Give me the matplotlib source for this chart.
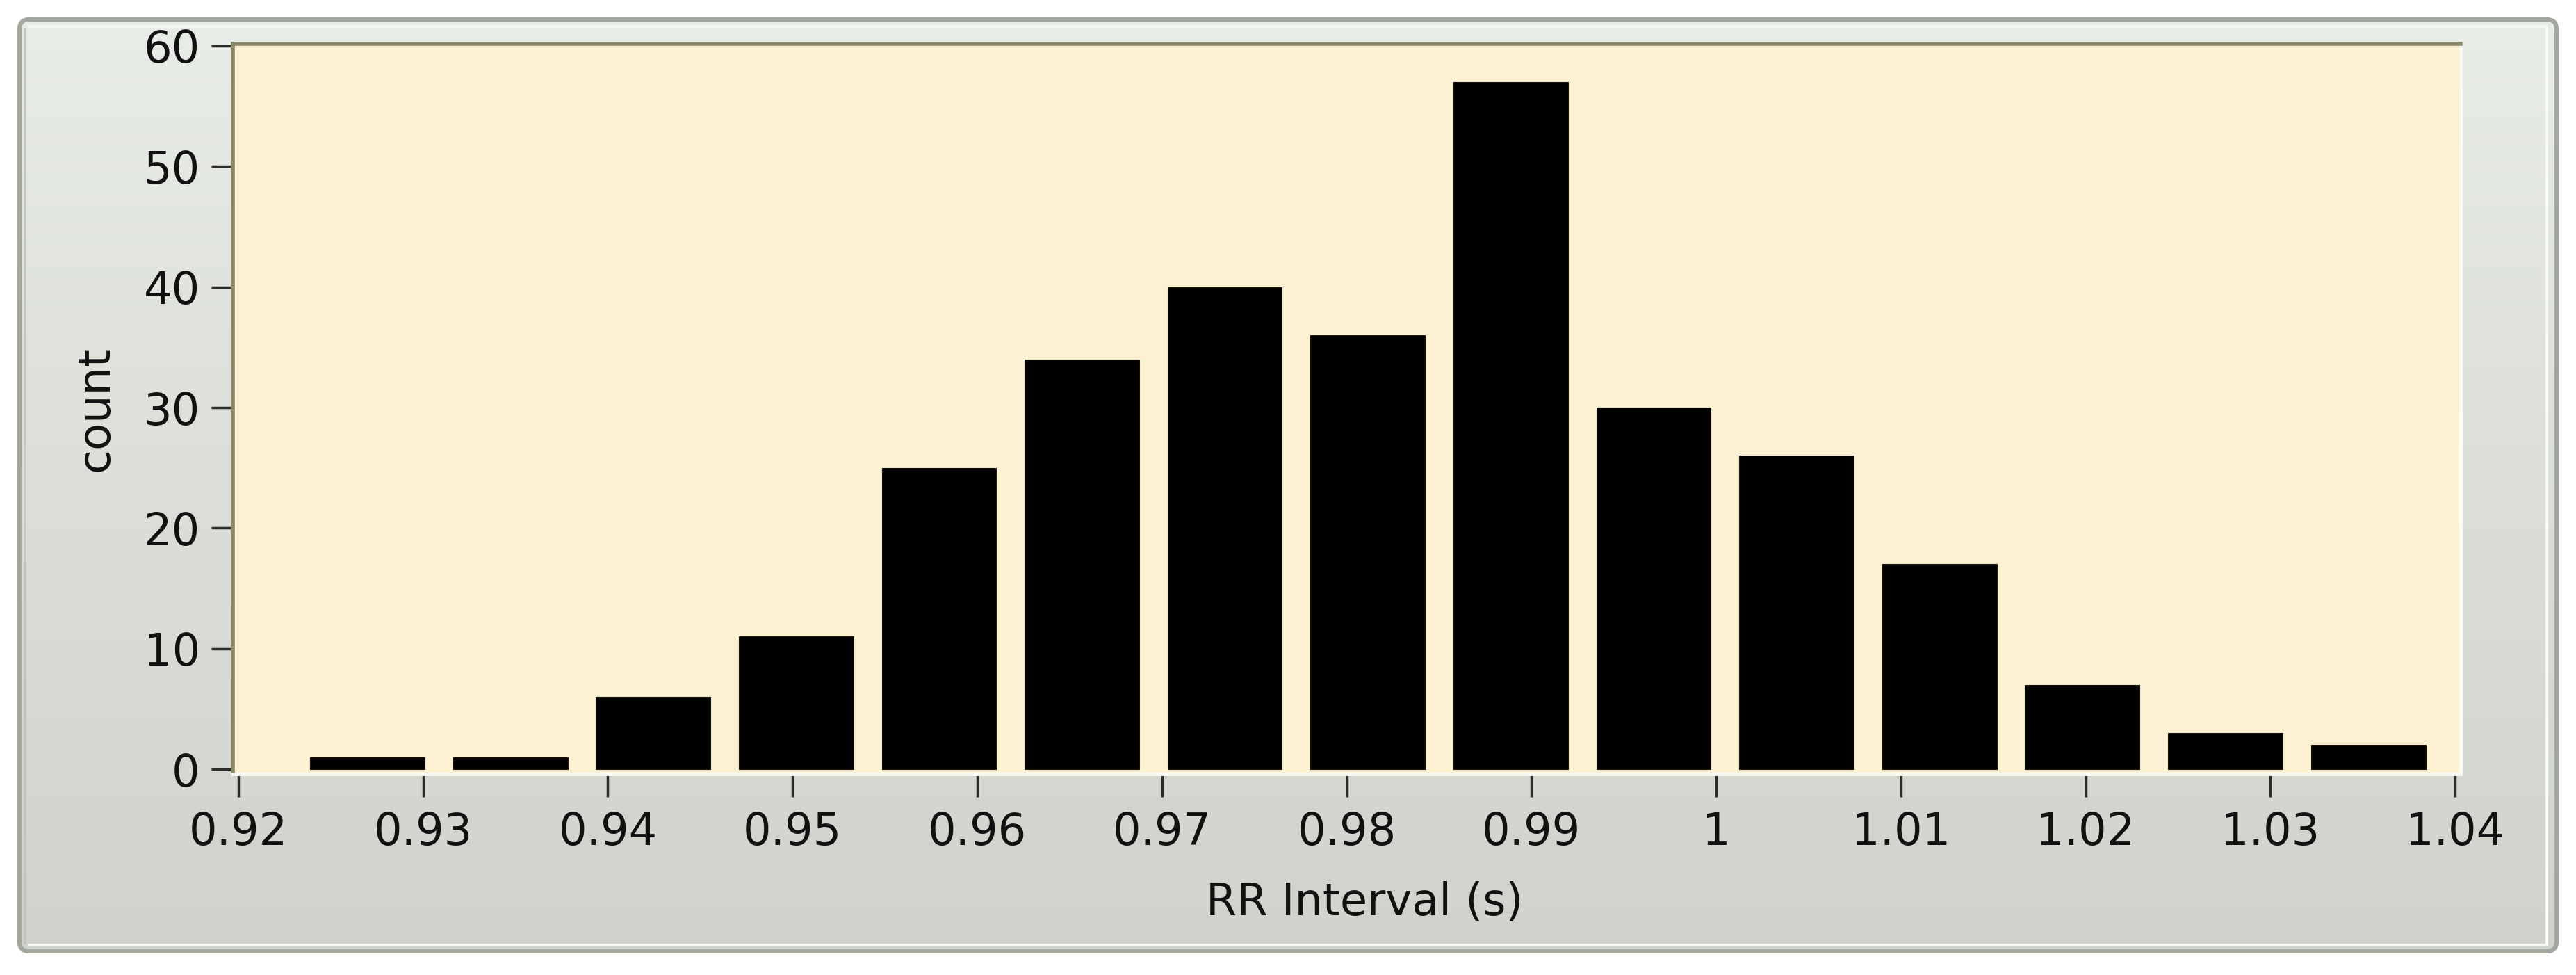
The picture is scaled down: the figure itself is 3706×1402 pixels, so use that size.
import numpy as np
import matplotlib
matplotlib.use("Agg")
import matplotlib.pyplot as plt
from matplotlib.patches import FancyBboxPatch
from matplotlib.colors import LinearSegmentedColormap

# ---- data ----
bin_centers = [0.92698, 0.93472, 0.94245, 0.95019, 0.95793, 0.96567, 0.97340,
               0.98114, 0.98888, 0.99661, 1.00435, 1.01209, 1.01982, 1.02756, 1.03530]
counts = [1, 1, 6, 11, 25, 34, 40, 36, 57, 30, 26, 17, 7, 3, 2]
x_ticks = [0.92, 0.93, 0.94, 0.95, 0.96, 0.97, 0.98, 0.99, 1.00, 1.01, 1.02, 1.03, 1.04]
x_tick_labels = ["0.92", "0.93", "0.94", "0.95", "0.96", "0.97", "0.98", "0.99",
                 "1", "1.01", "1.02", "1.03", "1.04"]
y_ticks = [0, 10, 20, 30, 40, 50, 60]
x_label = "RR Interval (s)"
y_label = "count"

W, H = 3706, 1402
plt.rcParams['font.family'] = ['DejaVu Sans']
fig = plt.figure(figsize=(W / 100, H / 100), dpi=100, facecolor='white')

# ---- background panel (pixel coordinates) ----
bg = fig.add_axes([0, 0, 1, 1], zorder=0)
bg.set_xlim(0, W)
bg.set_ylim(H, 0)
bg.axis('off')

panel = FancyBboxPatch((28, 28), 3650, 1340, boxstyle="round,pad=0,rounding_size=14",
                       facecolor='none', edgecolor='#a3a89f', linewidth=4.5, zorder=3)
bg.add_patch(panel)
clip = FancyBboxPatch((28, 28), 3650, 1340, boxstyle="round,pad=0,rounding_size=14",
                      facecolor='none', edgecolor='none', transform=bg.transData)
bg.add_patch(clip)
cmap = LinearSegmentedColormap.from_list('panel', ['#e9ede7', '#dfe3dc', '#d7dbd3', '#cfd3cb'])
grad = np.linspace(0, 1, 256).reshape(-1, 1)
im = bg.imshow(grad, cmap=cmap, extent=[28, 3678, 1368, 28], aspect='auto', zorder=1)
im.set_clip_path(clip)
# highlight lines inside the frame
bg.plot([40, 3665], [38, 38], color='#f4f6f1', lw=3, zorder=2, solid_capstyle='butt')
bg.plot([3664, 3664], [38, 1360], color='#f7f8f4', lw=3, zorder=2, solid_capstyle='butt')
bg.plot([40, 3664], [1359, 1359], color='#f4f6f1', lw=3, zorder=2, solid_capstyle='butt')
bg.plot([36, 36], [40, 1358], color='#c2c6be', lw=3, zorder=2, solid_capstyle='butt')

# ---- main plot ----
L, R, T, B = 335, 3540, 63, 1113
ax = fig.add_axes([L / W, 1 - B / H, (R - L) / W, (B - T) / H], zorder=2)
ax.set_facecolor('#fdf1d3')

ax.bar(bin_centers, counts, width=0.0062, color='black', edgecolor='#1a140c',
       linewidth=0.8, zorder=3)

ax.set_xlim(0.9197, 1.0403)
ax.set_ylim(-0.4, 60.17)
ax.set_xticks(x_ticks)
ax.set_xticklabels(x_tick_labels)
ax.set_yticks(y_ticks)

for s in ['top', 'left']:
    ax.spines[s].set_color('#8a8769')
    ax.spines[s].set_linewidth(4)
for s in ['right', 'bottom']:
    ax.spines[s].set_color('#fbfaf1')
    ax.spines[s].set_linewidth(3.5)

ax.tick_params(axis='both', direction='out', width=2.5, color='#2b2b2b',
               labelsize=46, labelcolor='#111111')
ax.tick_params(axis='x', length=24, pad=14)
ax.tick_params(axis='y', length=22, pad=12)

ax.set_xlabel(x_label, fontsize=46, color='#111111', va='center', ha='center')
ax.xaxis.set_label_coords((1963 - L) / (R - L), -(1298 - B) / (B - T))
ax.set_ylabel(y_label, fontsize=46, color='#111111', va='center', ha='center')
ax.yaxis.set_label_coords((137 - L) / (R - L), 0.5)

fig.savefig('out.png', dpi=100, facecolor='white')
